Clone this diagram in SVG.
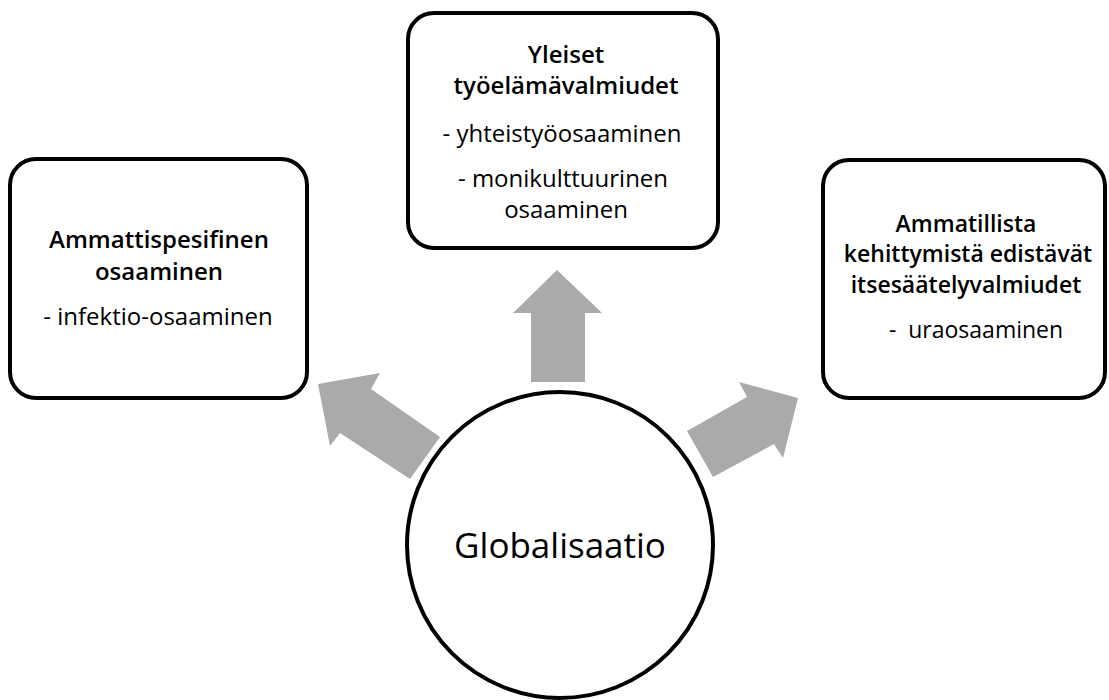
<svg xmlns="http://www.w3.org/2000/svg" width="1109" height="700" viewBox="0 0 1109 700">
<style>
.box{fill:#fff;stroke:#000;stroke-width:4}
.arrow{fill:#aaaaaa;stroke:none}
text{font-family:"Open Sans","Noto Sans",sans-serif;fill:#000;text-anchor:middle}
.h{font-weight:600;font-size:24px}
.b{font-size:24px}
.c{font-size:35px}
.hs{font-size:23px}
.bs{font-size:23px}
</style>
<rect width="1109" height="700" fill="#fff"/>
<g id="connectors">
<polygon class="arrow" points="557,270 602,313 585,313 585,382 531,382 531,313 513,313"/>
<polygon class="arrow" points="318,384 380,373 371,389 440,437 410,479 340,433 330,446"/>
<polygon class="arrow" points="798,398 739,382 747,397 687,431 713,477 774,444 783,458"/>
</g>
<g id="node-left">
<rect class="box" x="10" y="159" width="297" height="239" rx="26"/>
<text class="h" x="159" y="248">Ammattispesifinen</text>
<text class="h" x="159" y="280">osaaminen</text>
<text class="b" x="158" y="325">- infektio-osaaminen</text>
</g>
<g id="node-top">
<rect class="box" x="408" y="13" width="310" height="235" rx="26"/>
<text class="h" x="566" y="63">Yleiset</text>
<text class="h" x="566" y="94">työelämävalmiudet</text>
<text class="b" x="562" y="142">- yhteistyöosaaminen</text>
<text class="b" x="563" y="187">- monikulttuurinen</text>
<text class="b" x="566" y="218">osaaminen</text>
</g>
<g id="node-right">
<rect class="box" x="823" y="160" width="282" height="238" rx="26"/>
<text class="h hs" x="966" y="232">Ammatillista</text>
<text class="h hs" x="968" y="262">kehittymistä edistävät</text>
<text class="h hs" x="966" y="293">itsesäätelyvalmiudet</text>
<text class="b bs" x="976" y="338" style="white-space:pre">-  uraosaaminen</text>
</g>
<g id="node-center">
<circle class="box" cx="560" cy="545" r="153"/>
<text class="c" x="560" y="558">Globalisaatio</text>
</g>
</svg>
